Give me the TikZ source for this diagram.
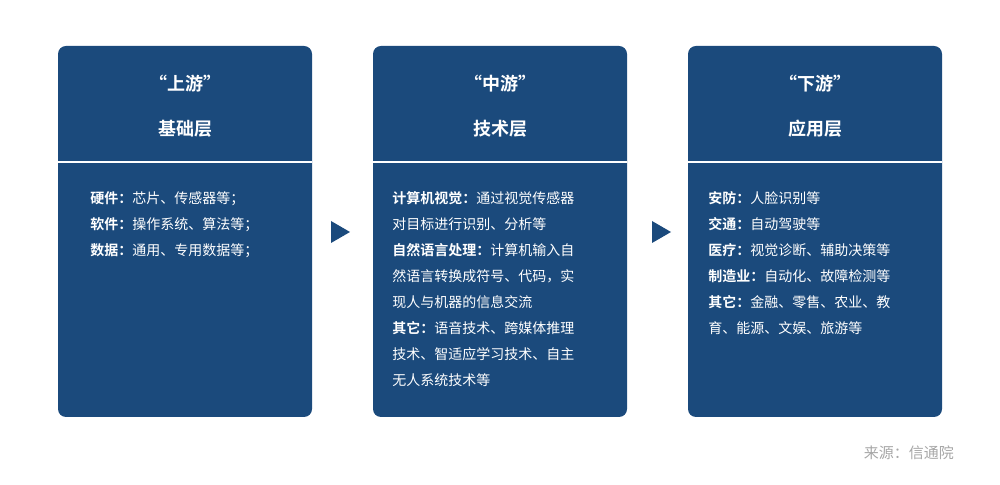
\documentclass[tikz,border=0pt]{standalone}
\usepackage{fontspec}
\setmainfont{Noto Sans CJK SC}[BoldFont={Noto Sans CJK SC Bold}]
\definecolor{bx}{HTML}{1B4A7C}
\begin{document}
\begin{tikzpicture}[x=0.5pt,y=-0.5pt,
  card/.style={fill=bx,rounded corners=4pt},
  ttl/.style={text=white,font=\fontsize{9}{11}\selectfont\bfseries},
  body/.style={text=white,font=\fontsize{7}{13}\selectfont,align=left,anchor=north west,inner sep=0pt},
  tri/.style={fill=bx}]
\useasboundingbox (0,0) rectangle (1000,485);
\foreach \n/\x in {a/58,b/373,c/688}{
  \fill[card] (\x,46) rectangle ++(254,371);
  \draw[white,line width=1.2pt] (\x,162) -- ++(254,0);
}
\node[ttl] (a1) at (185,84) {“上游”};
\node[ttl] (a2) at (185,129) {基础层};
\node[ttl] (b1) at (500,84) {“中游”};
\node[ttl] (b2) at (500,129) {技术层};
\node[ttl] (c1) at (815,84) {“下游”};
\node[ttl] (c2) at (815,129) {应用层};
\node[body] (at) at (90,191) {\textbf{硬件：}芯片、传感器等；\\\textbf{软件：}操作系统、算法等；\\\textbf{数据：}通用、专用数据等；};
\node[body] (bt) at (392,191) {\textbf{计算机视觉：}通过视觉传感器\\对目标进行识别、分析等\\\textbf{自然语言处理：}计算机输入自\\然语言转换成符号、代码，实\\现人与机器的信息交流\\\textbf{其它：}语音技术、跨媒体推理\\技术、智适应学习技术、自主\\无人系统技术等};
\node[body] (ct) at (708,191) {\textbf{安防：}人脸识别等\\\textbf{交通：}自动驾驶等\\\textbf{医疗：}视觉诊断、辅助决策等\\\textbf{制造业：}自动化、故障检测等\\\textbf{其它：}金融、零售、农业、教\\育、能源、文娱、旅游等};
\fill[tri] (331,221) -- (350,232) -- (331,243) -- cycle;
\fill[tri] (652,221) -- (671,232) -- (652,243) -- cycle;
\node[text=gray!70,font=\fontsize{7.5}{9}\selectfont,anchor=east] (src) at (961,453) {来源：信通院};
\end{tikzpicture}
\end{document}
